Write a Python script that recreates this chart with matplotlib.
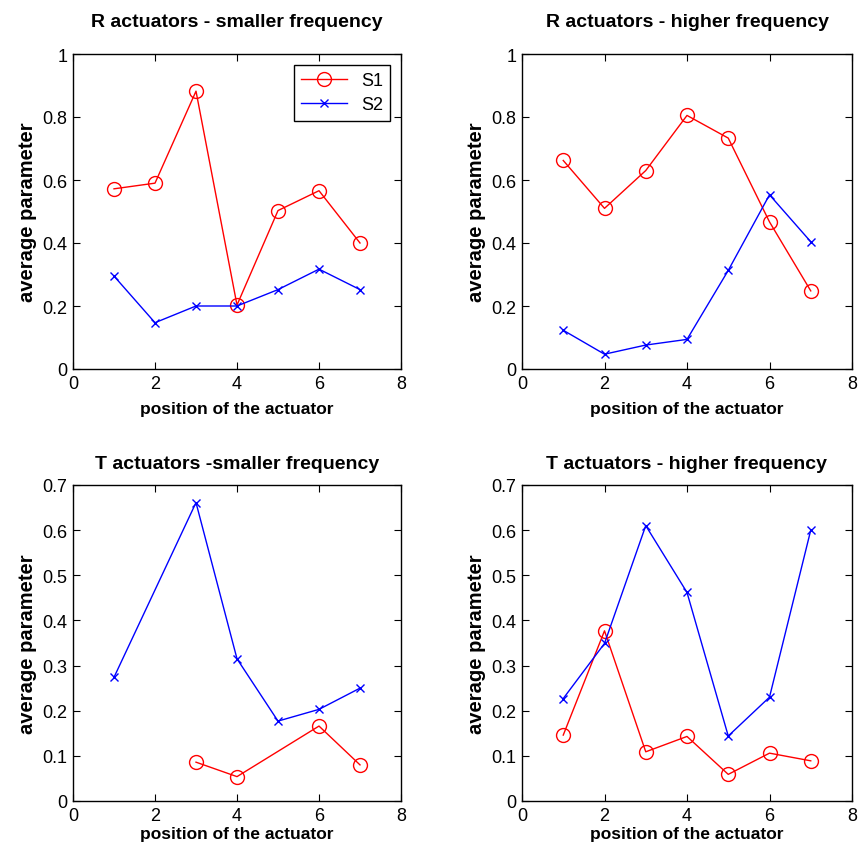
import numpy as np
import matplotlib
matplotlib.use('Agg')
import matplotlib.pyplot as plt

plt.rcParams['font.family'] = ['Liberation Sans', 'DejaVu Sans']

pos = [1, 2, 3, 4, 5, 6, 7]

# R actuators - smaller frequency
r_low_s1 = [0.572, 0.590, 0.882, 0.203, 0.503, 0.566, 0.400]
r_low_s2 = [0.295, 0.147, 0.200, 0.200, 0.252, 0.317, 0.252]

# R actuators - higher frequency
r_high_s1 = [0.662, 0.510, 0.630, 0.805, 0.733, 0.467, 0.248]
r_high_s2 = [0.123, 0.047, 0.076, 0.094, 0.313, 0.553, 0.404]

# T actuators - smaller frequency (not every position has a value)
t_low_pos_s1 = [3, 4, 6, 7]
t_low_s1 = [0.086, 0.054, 0.166, 0.080]
t_low_pos_s2 = [1, 3, 4, 5, 6, 7]
t_low_s2 = [0.274, 0.661, 0.315, 0.177, 0.203, 0.250]

# T actuators - higher frequency
t_high_s1 = [0.146, 0.377, 0.109, 0.143, 0.059, 0.106, 0.089]
t_high_s2 = [0.227, 0.349, 0.610, 0.462, 0.144, 0.230, 0.600]

r_ticks = [0, 0.2, 0.4, 0.6, 0.8, 1]
r_labels = ['0', '0.2', '0.4', '0.6', '0.8', '1']
t_ticks = [0, 0.1, 0.2, 0.3, 0.4, 0.5, 0.6, 0.7]
t_labels = ['0', '0.1', '0.2', '0.3', '0.4', '0.5', '0.6', '0.7']

panels = [
    ('R actuators - smaller frequency', pos, r_low_s1, pos, r_low_s2, r_ticks, r_labels),
    ('R actuators - higher frequency', pos, r_high_s1, pos, r_high_s2, r_ticks, r_labels),
    ('T actuators -smaller frequency', t_low_pos_s1, t_low_s1, t_low_pos_s2, t_low_s2, t_ticks, t_labels),
    ('T actuators - higher frequency', pos, t_high_s1, pos, t_high_s2, t_ticks, t_labels),
]

rects = [
    [73 / 860, 1 - 370 / 853, 328 / 860, 315 / 853],
    [522 / 860, 1 - 370 / 853, 330 / 860, 315 / 853],
    [73 / 860, 1 - 802 / 853, 328 / 860, 316 / 853],
    [522 / 860, 1 - 802 / 853, 330 / 860, 316 / 853],
]

fig = plt.figure(figsize=(8.6, 8.53), dpi=100)

for i, (title, x1, y1, x2, y2, yt, ytl) in enumerate(panels):
    top_row = i < 2
    ax = fig.add_axes(rects[i])
    ax.plot(x1, y1, color='red', marker='o', markersize=10, markerfacecolor='none',
            markeredgewidth=1, linewidth=1, label='S1')
    ax.plot(x2, y2, color='blue', marker='x', markersize=6, markeredgewidth=1,
            linewidth=1, label='S2')
    ax.set_xlim(0, 8)
    ax.set_ylim(yt[0], yt[-1])
    ax.set_xticks([0, 2, 4, 6, 8])
    ax.set_yticks(yt)
    ax.set_yticklabels(ytl)
    ax.tick_params(direction='in', top=True, right=True, labelsize=13, length=5, pad=4)
    ax.set_title(title, fontsize=14, fontweight='bold', pad=20 if top_row else 12)
    ax.set_xlabel('position of the actuator', fontsize=12.5, fontweight='bold',
                  labelpad=7 if top_row else 2)
    ax.set_ylabel('average parameter', fontsize=14.5, fontweight='bold', labelpad=4)
    for s in ax.spines.values():
        s.set_linewidth(1)
    if i == 0:
        leg = ax.legend(loc='upper right', fontsize=13, fancybox=False, framealpha=1,
                        edgecolor='black', borderaxespad=0.6, handlelength=2.5,
                        borderpad=0.4, labelspacing=0.4)
        leg.get_frame().set_linewidth(1)

fig.savefig('out.png', dpi=100)
